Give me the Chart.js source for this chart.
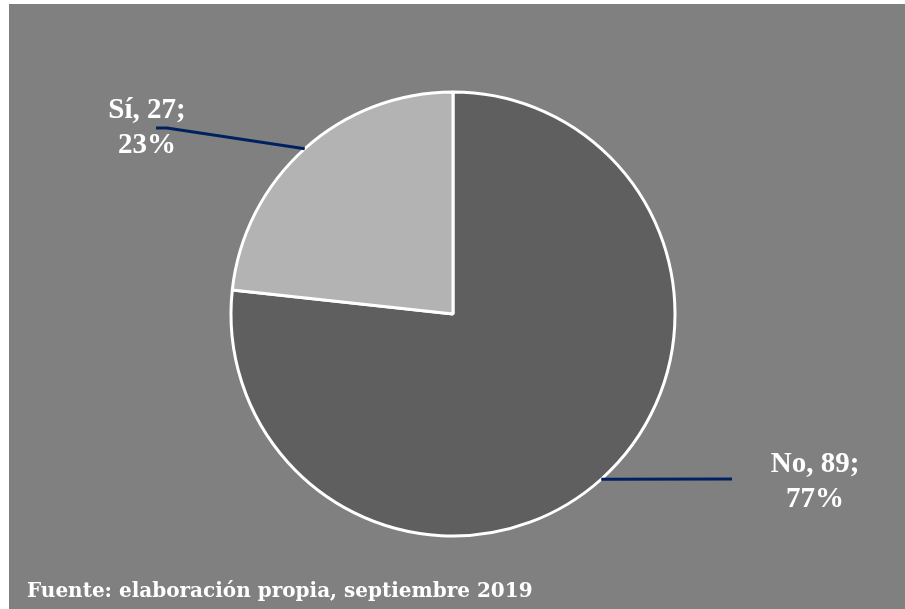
<!DOCTYPE html>
<html>
<head>
<meta charset="utf-8">
<script src="https://cdn.jsdelivr.net/npm/chart.js@4.4.0/dist/chart.umd.min.js"></script>
<style>
  body { margin: 0; background: #ffffff; }
  #wrap { position: absolute; left: 9px; top: 4px; width: 896px; height: 605px; background: #808080; }
</style>
</head>
<body>
<div id="wrap"><canvas id="pie" width="896" height="605"></canvas></div>
<script>
// answers to the survey question
const categories = ['No', 'Sí'];
const counts = [89, 27];
const sliceColors = ['#5f5f5f', '#b3b3b3'];
const footnote = 'Fuente: elaboración propia, septiembre 2019';

// where each label sits and where its leader line ends, relative to the pie centre
const labelSpots = [
    { tx: 362, ty: 158, lines: [[279, 165]] },
    { tx: -306, ty: -196, lines: [[-286, -186], [-297, -186]] }
];

const total = counts.reduce((a, b) => a + b, 0);

const calloutPlugin = {
    id: 'callouts',
    afterDatasetsDraw(chart) {
        const ctx = chart.ctx;
        const meta = chart.getDatasetMeta(0);
        meta.data.forEach((arc, i) => {
            const p = arc.getProps(['x', 'y', 'startAngle', 'endAngle', 'outerRadius'], true);
            const mid = (p.startAngle + p.endAngle) / 2;
            const sx = p.x + Math.cos(mid) * p.outerRadius;
            const sy = p.y + Math.sin(mid) * p.outerRadius;
            const spot = labelSpots[i];

            ctx.save();
            ctx.strokeStyle = '#002060';
            ctx.lineWidth = 3;
            ctx.beginPath();
            ctx.moveTo(sx, sy);
            spot.lines.forEach(pt => ctx.lineTo(p.x + pt[0], p.y + pt[1]));
            ctx.stroke();

            const pct = Math.round(counts[i] / total * 100);
            ctx.fillStyle = '#ffffff';
            ctx.font = 'bold 29px "Liberation Serif", "Times New Roman", serif';
            ctx.textAlign = 'center';
            ctx.textBaseline = 'alphabetic';
            ctx.fillText(categories[i] + ', ' + counts[i] + ';', p.x + spot.tx, p.y + spot.ty);
            ctx.fillText(pct + '%', p.x + spot.tx, p.y + spot.ty + 35);
            ctx.restore();
        });

        ctx.save();
        ctx.fillStyle = '#ffffff';
        ctx.font = 'bold 20px "DejaVu Serif", serif';
        ctx.textAlign = 'left';
        ctx.fillText(footnote, 18, 593);
        ctx.restore();
    }
};

const ctx = document.getElementById('pie').getContext('2d');
const myChart = new Chart(ctx, {
    type: 'pie',
    data: {
        labels: categories,
        datasets: [{
            data: counts,
            backgroundColor: sliceColors,
            borderColor: '#ffffff',
            borderWidth: 3,
            radius: 222
        }]
    },
    options: {
        responsive: false,
        animation: false,
        events: [],
        layout: { padding: { left: 0, right: 8, top: 15, bottom: 0 } },
        plugins: {
            legend: { display: false },
            tooltip: { enabled: false }
        }
    },
    plugins: [calloutPlugin]
});
</script>
</body>
</html>
